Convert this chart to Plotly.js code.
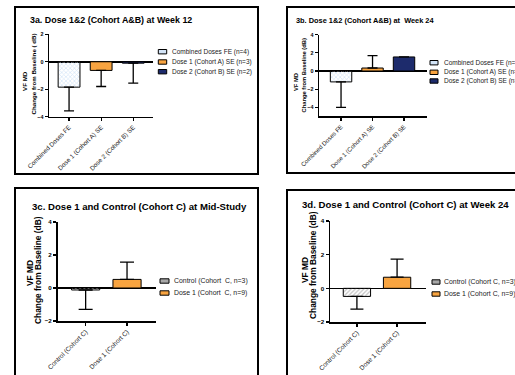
<!DOCTYPE html>
<html><head><meta charset="utf-8">
<script src="https://cdn.plot.ly/plotly-3.0.1.min.js"></script>
<style>html,body{margin:0;padding:0;background:#fff;overflow:hidden}#chart{width:515px;height:375px;}</style>
</head><body><div id="chart"></div>
<script>
// ---- data ----
const catsAB = ['Combined Doses FE', 'Dose 1 (Cohort A) SE', 'Dose 2 (Cohort B) SE'];
const legendA = ['Combined Doses FE (n=4)', 'Dose 1 (Cohort A) SE (n=3)', 'Dose 2 (Cohort B) SE (n=2)'];
const wk12Mean = [-1.85, -0.63, -0.1];
const wk12Err = [1.72, 1.17, 1.45];
const legendB = ['Combined Doses FE (n=5)', 'Dose 1 (Cohort A) SE (n=3)', 'Dose 2 (Cohort B) SE (n=2)'];
const wk24Mean = [-1.2, 0.33, 1.55];
const wk24Err = [2.8, 1.37, 0];
const catsC = ['Control (Cohort C)', 'Dose 1 (Cohort C)'];
const legendC = ['Control (Cohort  C, n=3)', 'Dose 1 (Cohort  C, n=9)'];
const midMean = [-0.12, 0.52];
const midErr = [1.18, 1.05];
const legendD = ['Control (Cohort C, n=3)', 'Dose 1 (Cohort C, n=9)'];
const cWk24Mean = [-0.48, 0.66];
const cWk24Err = [0.76, 1.07];
const titles = ['3a. Dose 1&2 (Cohort A&B) at Week 12', '3b. Dose 1&2 (Cohort A&B) at  Week 24',
  '3c. Dose 1 and Control (Cohort C) at Mid-Study', '3d. Dose 1 and Control (Cohort C) at Week 24'];
const yTitle1 = 'VF MD';
const yTitle2a = 'Change from Baseline ( dB)';
const yTitle2 = 'Change from Baseline (dB)';

// ---- styles ----
const colAB = {fill: ['#d3e4f7', '#f8a440', '#1d2b6c'], shape: ['x', '', ''], fg: ['#a7c5ea', '#f8a440', '#1d2b6c']};
const colC = {fill: ['#c4c4c4', '#f8a440'], shape: ['/', ''], fg: ['#4a4a4a', '#f8a440']};
const W = 515, H = 375;
const px = x => x / W, py = y => 1 - y / H;
const FONT = 'Liberation Sans, Arial, sans-serif';

function errArrays(m, e) {
  return {array: m.map((v, i) => v >= 0 ? e[i] : 0), arrayminus: m.map((v, i) => v < 0 ? e[i] : 0)};
}
function barTrace(cats, mean, err, col, xa, ya, capw) {
  const ea = errArrays(mean, err);
  return {type: 'bar', x: cats, y: mean, xaxis: xa, yaxis: ya, width: 0.68, showlegend: false, hoverinfo: 'skip',
    marker: {color: col.fill, line: {color: '#000', width: 1},
      pattern: {shape: col.shape, fgcolor: col.fg, bgcolor: col.fill, size: 3, solidity: 0.4}},
    error_y: {type: 'data', symmetric: false, array: ea.array, arrayminus: ea.arrayminus,
      color: '#000', thickness: 1.3, width: capw}};
}
const data = [
  barTrace(catsAB, wk12Mean, wk12Err, colAB, 'x', 'y', 5),
  barTrace(catsAB, wk24Mean, wk24Err, colAB, 'x2', 'y2', 5),
  barTrace(catsC, midMean, midErr, colC, 'x3', 'y3', 7),
  barTrace(catsC, cWk24Mean, cWk24Err, colC, 'x4', 'y4', 6.5)
];

function xAx(x0, x1, range, anchor, fs) {
  return {domain: [px(x0), px(x1)], range: range, anchor: anchor, showline: true, linecolor: '#000', linewidth: 1.5,
    ticks: 'outside', ticklen: 3, tickwidth: 1.2, tickcolor: '#000', tickangle: -45,
    tickfont: {size: fs, family: FONT, color: '#222'}, showgrid: false, zeroline: false, fixedrange: true};
}
function yAx(yTop, yBot, range, tickvals, anchor, fs) {
  return {domain: [py(yBot), py(yTop)], range: range, anchor: anchor, tickvals: tickvals, showline: true,
    linecolor: '#000', linewidth: 1.5, ticks: 'outside', ticklen: 3, tickwidth: 1.2, tickcolor: '#000',
    tickfont: {size: fs, family: FONT, color: '#000', weight: 'bold'}, showgrid: false,
    zeroline: true, zerolinecolor: '#000', zerolinewidth: 1.5, fixedrange: true};
}

const shapes = [], annotations = [];
// panel frames
[[15, 7, 258, 174], [287, 7, 530, 173], [15, 188, 258, 390], [287, 190, 530, 390]].forEach(f => {
  shapes.push({type: 'rect', xref: 'paper', yref: 'paper', x0: px(f[0]), x1: px(f[2]), y0: py(f[1]), y1: py(f[3]),
    line: {color: '#000', width: 2}, fillcolor: 'rgba(0,0,0,0)'});
});
// titles
[[28, 20, 8.9], [294, 20, 7.4], [30, 206, 9.6], [300, 204, 9.6]].forEach((t, i) => {
  annotations.push({xref: 'paper', yref: 'paper', x: px(t[0]), y: py(t[1]), xanchor: 'left', yanchor: 'middle',
    showarrow: false, text: '<b>' + titles[i] + '</b>', font: {size: t[2], family: FONT, color: '#000'}});
});
// y titles
[[25, 81, 32.5, 74, 6.2, yTitle2a], [296, 82, 303.5, 76, 5.8, yTitle2], [30, 273, 38, 270, 8.4, yTitle2], [305, 270, 313, 265, 8.4, yTitle2]]
  .forEach(t => {
    annotations.push({xref: 'paper', yref: 'paper', x: px(t[0]), y: py(t[1]), xanchor: 'center', yanchor: 'middle',
      textangle: -90, showarrow: false, text: '<b>' + yTitle1 + '</b>', font: {size: t[4], family: FONT, color: '#000'}});
    annotations.push({xref: 'paper', yref: 'paper', x: px(t[2]), y: py(t[3]), xanchor: 'center', yanchor: 'middle',
      textangle: -90, showarrow: false, text: '<b>' + t[5] + '</b>', font: {size: t[4], family: FONT, color: '#000'}});
  });
// legends
function legend(names, fills, rows, sx0, sx1, tx, fs) {
  names.forEach((n, i) => {
    shapes.push({type: 'rect', xref: 'paper', yref: 'paper', x0: px(sx0), x1: px(sx1), y0: py(rows[i] + 2.2), y1: py(rows[i] - 2.2),
      line: {color: '#000', width: 1}, fillcolor: fills[i]});
    annotations.push({xref: 'paper', yref: 'paper', x: px(tx), y: py(rows[i]), xanchor: 'left', yanchor: 'middle',
      showarrow: false, text: n, font: {size: fs, family: FONT, color: '#222'}});
  });
}
legend(legendA, colAB.fill, [51.7, 62, 71.7], 158.3, 166.7, 170, 6.5);
legend(legendB, colAB.fill, [62.7, 72.3, 81], 430, 438, 442, 6.5);
legend(legendC, ['#a8a8a8', '#f8a440'], [281, 293], 160, 169, 172, 6.9);
legend(legendD, ['#a8a8a8', '#f8a440'], [282, 294], 432, 440, 442, 6.9);

const layout = {
  width: W, height: H, margin: {l: 0, r: 0, t: 0, b: 0, autoexpand: false},
  paper_bgcolor: '#fff', plot_bgcolor: 'rgba(0,0,0,0)', showlegend: false, bargap: 0.32,
  font: {family: FONT},
  xaxis: xAx(49, 153.3, [-0.625, 2.625], 'y', 6.3),
  yaxis: yAx(34.3, 116.7, [-4, 2], [-4, -2, 0, 2], 'x', 5.4),
  xaxis2: xAx(319, 427, [-0.7, 2.73], 'y2', 6.1),
  yaxis2: yAx(34.7, 116.4, [-5, 4], [-4, -2, 0, 2, 4], 'x2', 5.4),
  xaxis3: xAx(57.5, 156, [-0.68, 1.7], 'y3', 6.5),
  yaxis3: yAx(222, 321, [-2, 4], [-2, 0, 2, 4], 'x3', 6.2),
  xaxis4: xAx(330, 426, [-0.67, 1.72], 'y4', 6.5),
  yaxis4: yAx(221, 322, [-2, 4], [-2, 0, 2, 4], 'x4', 6.2),
  shapes: shapes, annotations: annotations
};
Plotly.newPlot('chart', data, layout, {staticPlot: true, displayModeBar: false});
</script></body></html>
